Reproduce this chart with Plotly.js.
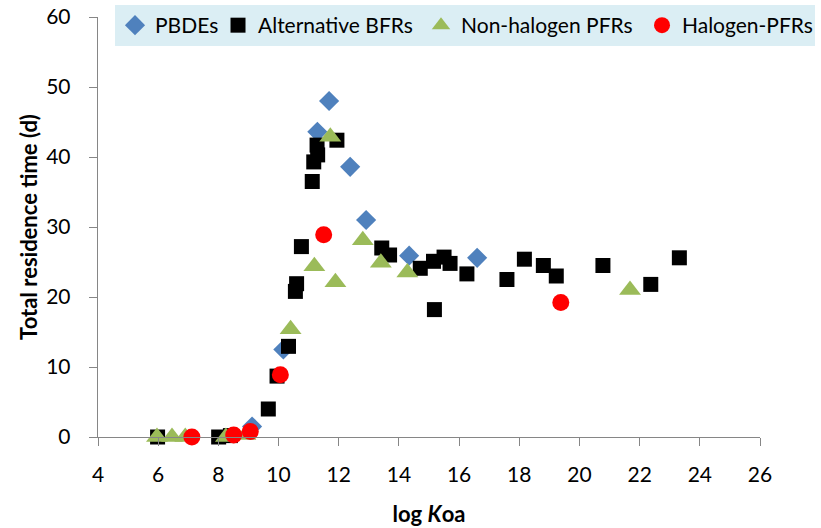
<!DOCTYPE html>
<html>
<head>
<meta charset="utf-8">
<script src="https://cdn.plot.ly/plotly-3.0.1.min.js"></script>
<style>html,body{margin:0;padding:0;background:#fff;}#chart{width:821px;height:528px;}</style>
</head>
<body>
<div id="chart"></div>
<script>
// PBDEs
var pbdeX = [9.12, 10.16, 11.29, 11.68, 12.38, 12.91, 14.34, 16.6];
var pbdeY = [1.5, 12.5, 43.6, 48.0, 38.6, 31.0, 25.9, 25.6];
// Alternative BFRs
var altX = [5.98, 8.01, 8.4, 9.66, 9.95, 10.33, 10.56, 10.6, 10.76, 11.12, 11.17, 11.30, 11.28, 11.94, 13.43, 13.69, 14.71, 15.15, 15.5, 15.7, 15.18, 16.26, 17.59, 18.17, 18.80, 19.23, 20.78, 22.37, 23.32];
var altY = [0, 0, 0.2, 4.0, 8.7, 12.95, 20.8, 21.9, 27.2, 36.5, 39.3, 40.3, 41.7, 42.4, 27.0, 26.0, 24.1, 25.1, 25.7, 24.8, 18.2, 23.3, 22.5, 25.4, 24.5, 23.0, 24.5, 21.8, 25.6];
// Non-halogen PFRs
var nonX = [5.96, 6.46, 6.9, 8.25, 8.9, 10.4, 11.19, 11.72, 11.89, 12.80, 13.40, 14.28, 21.68];
var nonY = [0, 0, 0, 0, 0.3, 15.4, 24.4, 42.9, 22.1, 28.1, 24.9, 23.5, 21.0];
// Halogen-PFRs
var halX = [7.12, 8.51, 9.06, 10.06, 11.50, 19.38];
var halY = [0, 0.3, 0.8, 8.9, 28.9, 19.2];

var FONT = 'Lato, "Open Sans", sans-serif';
var traces = [
  {x: pbdeX, y: pbdeY, name: 'PBDEs', type: 'scatter', mode: 'markers', cliponaxis: false, legendwidth: 58,
   marker: {symbol: 'diamond', size: 15.5, color: '#4F81BD'}},
  {x: altX, y: altY, name: 'Alternative BFRs', type: 'scatter', mode: 'markers', cliponaxis: false, legendwidth: 158,
   marker: {symbol: 'square', size: 15, color: '#000000'}},
  {x: nonX, y: nonY, name: 'Non-halogen PFRs', type: 'scatter', mode: 'markers', cliponaxis: false, legendwidth: 176,
   marker: {symbol: 'triangle-up', size: 19, color: '#9BBB59'}},
  {x: halX, y: halY, name: 'Halogen-PFRs', type: 'scatter', mode: 'markers', cliponaxis: false, legendwidth: 128,
   marker: {symbol: 'circle', size: 17, color: '#FF0000'}}
];

var layout = {
  width: 821, height: 528,
  margin: {l: 98, r: 61, t: 17, b: 90.5, autoexpand: false},
  paper_bgcolor: '#ffffff', plot_bgcolor: '#ffffff',
  font: {family: FONT, size: 21, color: '#000'},
  showlegend: true,
  legend: {orientation: 'h', x: 1.0831, xanchor: 'right', y: 1.0285, yanchor: 'top',
    bgcolor: '#DBEEF4', font: {family: FONT, size: 21, color: '#000'},
    itemwidth: 30, tracegroupgap: 0},
  xaxis: {range: [4, 26], tickvals: [4,6,8,10,12,14,16,18,20,22,24,26], showgrid: false, zeroline: false,
    showline: true, linecolor: '#868686', linewidth: 1.3, ticks: 'outside', ticklen: 8, tickcolor: '#868686',
    ticklabelstandoff: 10,
    tickfont: {family: FONT, size: 21, color: '#000'},
    title: {text: '<b>log <i>K</i>oa</b>', font: {family: FONT, size: 22}, standoff: 22}},
  yaxis: {range: [0, 60], tickvals: [0,10,20,30,40,50,60], showgrid: false, zeroline: false,
    showline: true, linecolor: '#868686', linewidth: 1.3, ticks: 'outside', ticklen: 8, tickcolor: '#868686',
    ticklabelstandoff: 14,
    tickfont: {family: FONT, size: 21, color: '#000'},
    title: {text: '<b>Total residence time (d)</b>', font: {family: FONT, size: 22}, standoff: 2}}
};

Plotly.newPlot('chart', traces, layout, {staticPlot: true, displayModeBar: false});
</script>
</body>
</html>
